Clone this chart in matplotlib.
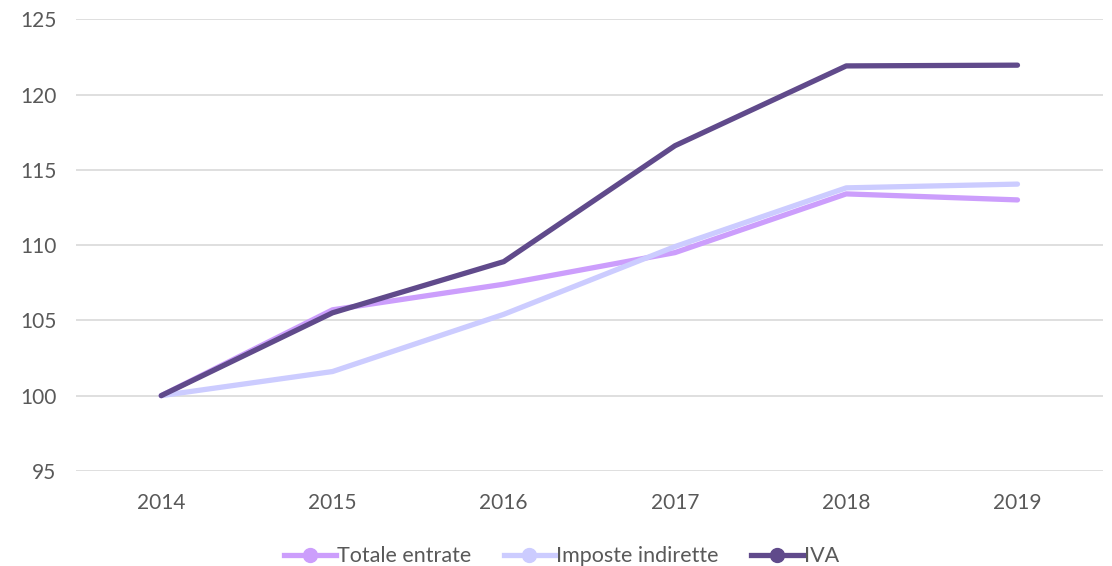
import matplotlib.pyplot as plt
from matplotlib.lines import Line2D

# Dati (indice 2014 = 100)
anni = ['2014', '2015', '2016', '2017', '2018', '2019']
totale_entrate = [100, 105.7, 107.4, 109.5, 113.4, 113.0]
imposte_indirette = [100, 101.6, 105.4, 109.9, 113.8, 114.05]
iva = [100, 105.5, 108.9, 116.6, 121.9, 121.95]

serie = ['Totale entrate', 'Imposte indirette', 'IVA']
colori = ['#CC9EFC', '#CCCCFF', '#604A8B']

plt.rcParams['font.family'] = ['Lato', 'DejaVu Sans']

fig = plt.figure(figsize=(11.12, 5.66), dpi=100)
ax = fig.add_axes([0.068, 0.168, 0.924, 0.798])

x = range(len(anni))
for valori, nome, col in zip([totale_entrate, imposte_indirette, iva], serie, colori):
    ax.plot(x, valori, color=col, lw=3.8, solid_capstyle='round',
            solid_joinstyle='round', label=nome)

ax.set_xlim(-0.5, len(anni) - 0.5)
ax.set_ylim(95, 125)
ax.set_yticks(range(95, 126, 5))
ax.set_xticks(list(x))
ax.set_xticklabels(anni)
ax.grid(axis='y', color='#D9D9D9', lw=1.2)
ax.set_axisbelow(True)
for s in ax.spines.values():
    s.set_visible(False)
ax.tick_params(length=0, labelsize=15, colors='#595959')
ax.tick_params(axis='x', pad=16)
ax.tick_params(axis='y', pad=14)

handles = [Line2D([0], [0], color=c, lw=3.8, marker='o', markersize=10,
                  markerfacecolor=c, markeredgecolor=c) for c in colori]
leg = fig.legend(handles, serie, loc='lower center', bbox_to_anchor=(0.505, -0.035),
                 ncol=3, frameon=False, fontsize=15.5, handlelength=2.4,
                 handletextpad=0.05, columnspacing=1.5)
for t in leg.get_texts():
    t.set_color('#595959')

fig.savefig('out.png', dpi=100)
